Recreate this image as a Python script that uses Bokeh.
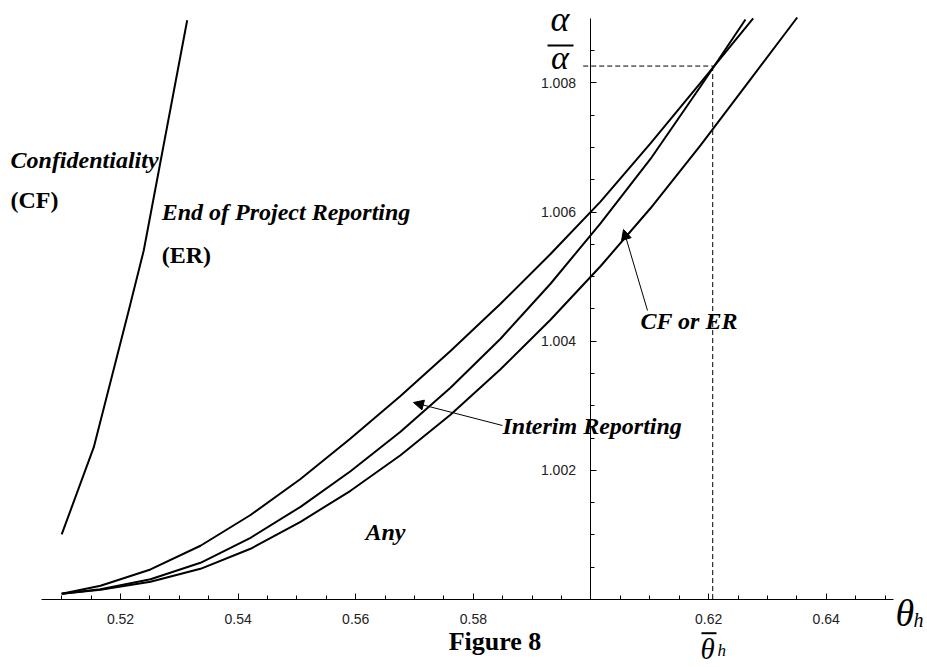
from bokeh.plotting import figure
from bokeh.models import Range1d, FixedTicker, Label, Arrow, NormalHead
from bokeh.embed import file_html
from bokeh.resources import INLINE

# ---------------- data ----------------
# Confidentiality boundary
cf_theta = [0.5100, 0.51546, 0.52141, 0.52396, 0.53134]
cf_alpha = [1.001007, 1.002359, 1.004477, 1.005407, 1.008970]

# upper boundary (End of Project Reporting / Interim Reporting)
upper_theta = [0.5100, 0.51660, 0.52510, 0.53360, 0.54211, 0.55061, 0.55911,
               0.56761, 0.57611, 0.58462, 0.59312, 0.60162, 0.61012, 0.61862,
               0.62758]
upper_alpha = [1.000088, 1.000212, 1.000465, 1.000832, 1.001308, 1.001866,
               1.002493, 1.003151, 1.003848, 1.004579, 1.005350, 1.006161,
               1.007064, 1.008001, 1.008997]

# middle boundary (Interim Reporting / CF or ER)
middle_theta = [0.5100, 0.51660, 0.52510, 0.53360, 0.54211, 0.55061, 0.55911,
                0.56761, 0.57611, 0.58462, 0.59312, 0.60162, 0.61012, 0.61862,
                0.62627]
middle_alpha = [1.000088, 1.000158, 1.000313, 1.000568, 1.000955, 1.001435,
                1.001985, 1.002597, 1.003278, 1.004037, 1.004889, 1.005825,
                1.006821, 1.007944, 1.008981]

# lower boundary (CF or ER / Any)
lower_theta = [0.5100, 0.51660, 0.52510, 0.53360, 0.54211, 0.55061, 0.55911,
               0.56761, 0.57611, 0.58462, 0.59312, 0.60162, 0.61012, 0.61862,
               0.62712, 0.63507]
lower_alpha = [1.000088, 1.000150, 1.000274, 1.000475, 1.000785, 1.001203,
               1.001683, 1.002233, 1.002860, 1.003565, 1.004331, 1.005160,
               1.006058, 1.007033, 1.008055, 1.009012]

theta_bar = 0.6207
alpha_bar = 1.00826

x_major = [0.52, 0.54, 0.56, 0.58, 0.62, 0.64]
x_labels = ["0.52", "0.54", "0.56", "0.58", "0.62", "0.64"]
x_minor = [0.510, 0.515, 0.520, 0.525, 0.530, 0.535, 0.540, 0.545, 0.550,
           0.555, 0.560, 0.565, 0.570, 0.575, 0.580, 0.585, 0.590, 0.595,
           0.600, 0.605, 0.610, 0.615, 0.620, 0.625, 0.630, 0.635, 0.640,
           0.645, 0.650]
y_major = [1.002, 1.004, 1.006, 1.008]
y_labels = ["1.002", "1.004", "1.006", "1.008"]
y_minor = [1.0005, 1.0010, 1.0015, 1.0020, 1.0025, 1.0030, 1.0035, 1.0040,
           1.0045, 1.0050, 1.0055, 1.0060, 1.0065, 1.0070, 1.0075, 1.0080,
           1.0085]

# ---------------- figure ----------------
p = figure(width=927, height=667,
           x_range=Range1d(0.499595, 0.657222),
           y_range=Range1d(0.998947, 1.009275),
           output_backend="svg", toolbar_location=None, min_border=0)
p.outline_line_color = None
p.grid.visible = False
p.background_fill_color = "white"
p.border_fill_color = "white"

tick_font = "Liberation Sans"

xa = p.xaxis[0]
xa.fixed_location = 1.0
xa.bounds = (0.5065, 0.6515)
xa.ticker = FixedTicker(ticks=x_major, minor_ticks=x_minor)
xa.major_label_overrides = dict(zip(x_major, x_labels))
xa.major_tick_in = 6
xa.major_tick_out = 0
xa.minor_tick_in = 4
xa.minor_tick_out = 0
xa.major_label_standoff = 15
xa.major_label_text_font = tick_font
xa.major_label_text_font_size = "14px"
xa.major_label_text_color = "#222222"
xa.axis_line_color = "black"

ya = p.yaxis[0]
ya.fixed_location = 0.6
ya.bounds = (1.0, 1.009)
ya.ticker = FixedTicker(ticks=y_major, minor_ticks=y_minor)
ya.major_label_overrides = dict(zip(y_major, y_labels))
ya.major_tick_in = 6
ya.major_tick_out = 0
ya.minor_tick_in = 4
ya.minor_tick_out = 0
ya.major_label_standoff = 15
ya.major_label_text_font = tick_font
ya.major_label_text_font_size = "14px"
ya.major_label_text_color = "#222222"
ya.axis_line_color = "black"

# curves
for xs, ys in [(cf_theta, cf_alpha), (upper_theta, upper_alpha),
               (middle_theta, middle_alpha), (lower_theta, lower_alpha)]:
    p.line(xs, ys, line_color="black", line_width=2, line_join="round")

# dashed reference lines
p.line([0.59868, theta_bar], [alpha_bar, alpha_bar], line_color="black",
       line_width=1, line_dash="5 3")
p.line([theta_bar, theta_bar], [alpha_bar, 1.0], line_color="black",
       line_width=1, line_dash="5 3")

serif = "Liberation Serif"

def lab(x, y, t, style="bold italic", size="24px", align="left"):
    p.add_layout(Label(x=x, y=y, text=t, text_font=serif,
                       text_font_style=style, text_font_size=size,
                       text_align=align, text_baseline="alphabetic",
                       text_color="black"))

lab(0.50130, 1.006813, "Confidentiality")
lab(0.50130, 1.006179, "(CF)", style="bold")
lab(0.52700, 1.005993, "End of Project Reporting")
lab(0.52700, 1.005327, "(ER)", style="bold")
lab(0.56166, 1.001038, "Any")
lab(0.58495, 1.002694, "Interim Reporting")
lab(0.60842, 1.004320, "CF or ER")
lab(0.58368, 0.999350, "Figure 8", style="bold", size="26px", align="center")

# axis symbols
lab(0.59473, 1.008981, "\u03b1", style="italic", size="36px", align="center")
lab(0.59473, 1.008393, "\u03b1", style="italic", size="34px", align="center")
p.segment(x0=[0.59261], y0=[1.008578], x1=[0.59703], y1=[1.008578],
          line_color="black", line_width=2)
lab(0.65178, 0.999788, "\u03b8", style="italic", size="38px")
lab(0.65484, 0.999675, "h", style="italic", size="20px")
lab(0.61862, 0.999241, "\u03b8", style="italic", size="29px")
lab(0.62151, 0.999210, "h", style="italic", size="17px")
p.segment(x0=[0.61879], y0=[0.999478], x1=[0.62134], y1=[0.999478],
          line_color="black", line_width=2)

# arrows
head = dict(size=10, fill_color="black", line_color="black", line_width=1)
p.add_layout(Arrow(end=NormalHead(**head), x_start=0.58495, y_start=1.002694,
                   x_end=0.56982, y_end=1.003050, line_width=1))
p.add_layout(Arrow(end=NormalHead(**head), x_start=0.60961, y_start=1.004475,
                   x_end=0.60553, y_end=1.005729, line_width=1))

open("out.html", "w").write(file_html(p, INLINE))
